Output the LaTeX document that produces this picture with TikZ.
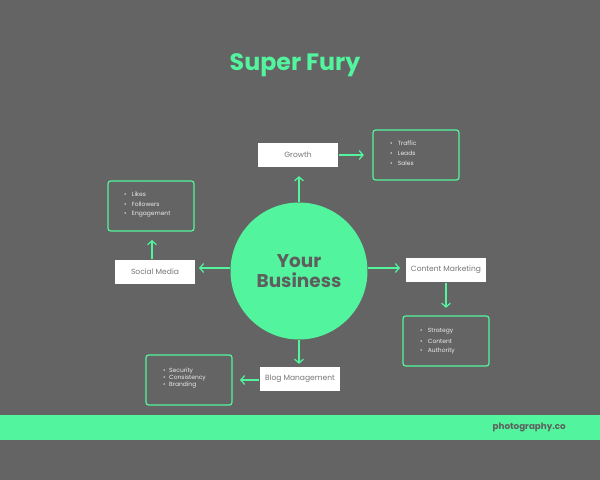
\documentclass[tikz,border=0pt]{standalone}
\usepackage{fontspec}
\setmainfont{Poppins}
\usetikzlibrary{arrows.meta}
\definecolor{furybg}{HTML}{646464}
\definecolor{furygreen}{HTML}{52F59E}
\definecolor{furytext}{HTML}{5E5E5E}
\tikzset{
  topic/.style={draw=none, fill=white, minimum width=1.62cm, minimum height=0.5cm, inner sep=0pt, font=\fontsize{4.3}{5}\selectfont, text=furytext!85!white},
  listbox/.style={draw=furygreen, line width=0.7pt, rounded corners=1.5pt, minimum width=1.72cm, minimum height=1cm, inner sep=0pt},
  item/.style={font=\fontsize{3.4}{4}\selectfont, text=white!92!black, anchor=west},
  link/.style={draw=furygreen, line width=0.7pt, -{Straight Barb[length=2.2pt,width=5pt]}}
}
\begin{document}
\begin{tikzpicture}[x=0.02cm, y=-0.02cm]
  \fill[furybg] (0,0) rectangle (600,480);
  \fill[furygreen] (0,415) rectangle (600,440);
  \node[font=\bfseries\fontsize{5}{6}\selectfont, text=furytext, anchor=east] (site) at (572,427) {photography.co};

  % title and centre
  \node[font=\bfseries\fontsize{13.5}{16}\selectfont, text=furygreen] (title) at (295,65) {Super Fury};
  \node[circle, fill=furygreen, minimum size=2.74cm, inner sep=0pt, align=center,
        font=\bfseries\fontsize{10.5}{11.5}\selectfont, text=furytext] (hub) at (299,271) {Your\\Business};

  % topics
  \node[topic] (growth) at (298,155) {Growth};
  \node[topic] (social) at (155,272) {Social Media};
  \node[topic] (content) at (446,270) {Content Marketing};
  \node[topic] (blog) at (300,379) {Blog Management};

  % lists
  \node[listbox] (growthlist) at (416,155) {};
  \node[listbox] (sociallist) at (151,206) {};
  \node[listbox] (contentlist) at (446,341) {};
  \node[listbox] (bloglist) at (189,380) {};
  \foreach \t [count=\i] in {Traffic,Leads,Sales}
    \node[item] at (384,133+10*\i) {\textbullet\hspace{3pt}\t};
  \foreach \t [count=\i] in {Likes,Followers,Engagement}
    \node[item] at (118,184+10*\i) {\textbullet\hspace{3pt}\t};
  \foreach \t [count=\i] in {Strategy,Content,Authority}
    \node[item] at (414,321+10*\i) {\textbullet\hspace{3pt}\t};
  \foreach \t [count=\i] in {Security,Consistency,Branding}
    \node[item] at (157,363+7.5*\i) {\textbullet\hspace{2pt}\t};

  % connectors
  \coordinate (socialup) at (152,240);
  \draw[link] (hub.north) -- ++(0,-26) coordinate (growthtip);
  \draw[link] (growth.east) -- ++(25,0) coordinate (growthlisttip);
  \draw[link] (hub.west |- 0,268) -- (199,268) coordinate (socialtip);
  \draw[link] (social.north -| socialup) -- (socialup);
  \draw[link] (hub.east |- 0,268) -- (400,268) coordinate (contenttip);
  \draw[link] (content.south) -- ++(0,25) coordinate (contentlisttip);
  \draw[link] (hub.south) -- ++(0,24) coordinate (blogtip);
  \draw[link] (blog.west |- 0,380) -- (240,380) coordinate (bloglisttip);
\end{tikzpicture}
\end{document}
